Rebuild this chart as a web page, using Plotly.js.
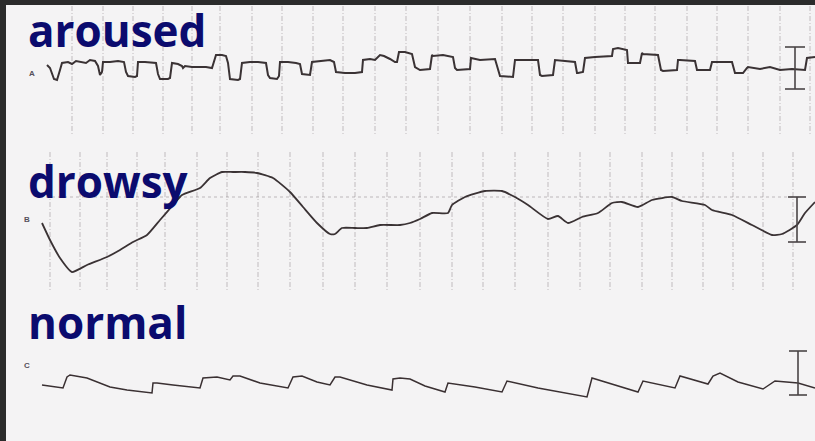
<!DOCTYPE html>
<html><head><meta charset="utf-8">
<script src="https://cdn.plot.ly/plotly-3.0.1.min.js"></script>
<style>html,body{margin:0;padding:0;background:#2b2b2b;}#chart{width:815px;height:441px;}</style>
</head><body><div id="chart"></div>
<script>
// Trace A: aroused (time position, deflection)
const arousedX = [47,50,54,57,60,62,68,72,76,82,86,90,95,98,100,102,103,110,118,124,126,128,135,137,138,145,152,156,158,160,168,170,172,178,182,183,185,192,200,206,212,214,216,222,226,228,230,238,240,242,250,258,266,268,270,277,279,280,288,296,300,302,310,312,320,330,334,336,345,355,362,363,370,375,380,384,390,395,397,399,405,412,415,420,430,432,433,443,453,455,457,470,471,480,495,497,500,513,515,525,538,540,542,553,555,565,575,577,578,583,585,595,612,613,618,627,628,630,640,642,643,658,661,663,677,678,680,695,697,698,710,712,713,732,735,737,743,747,748,760,770,780,792,805,807,815];
const arousedY = [65,68,79,80,70,63,62,64,61,62,63,60,61,66,75,72,62,62,61,62,72,76,77,76,62,62,63,63,74,79,79,78,63,64,66,68,66,67,67,67,68,62,55,55,56,63,79,80,79,63,62,62,63,75,78,79,76,62,62,63,64,74,75,62,61,60,62,72,73,73,72,60,59,60,55,56,59,62,62,52,52,54,67,70,69,55,56,55,57,68,70,69,58,60,59,65,76,77,60,60,60,75,76,75,60,61,62,73,73,72,58,57,56,49,48,50,63,63,63,53,54,55,70,71,70,60,60,61,70,70,70,62,62,62,73,73,73,68,67,69,67,70,69,70,58,57];
// Trace B: drowsy
const drowsyX = [42,50,60,72,87,107,120,133,147,160,173,182,200,210,222,233,245,257,273,290,303,317,330,335,342,355,367,380,400,410,420,432,448,452,465,485,502,515,528,548,558,568,582,598,612,622,638,652,672,682,705,712,732,752,772,782,797,805,815];
const drowsyY = [223,240,258,272,265,257,250,242,235,220,205,195,188,178,172,172,172,173,178,192,207,223,234,234,228,228,228,225,225,223,219,213,213,205,197,191,191,197,205,219,216,223,217,213,203,202,207,200,197,201,205,210,215,225,235,234,225,213,202];
// Trace C: normal
const normalX = [42,55,63,67,70,87,110,127,152,153,157,173,200,203,217,230,233,240,260,288,293,302,317,330,335,340,367,392,393,400,410,425,445,448,475,502,507,538,587,592,615,638,643,675,680,708,713,720,738,763,775,798,815];
const normalY = [385,387,388,377,375,378,387,390,393,383,383,385,388,378,377,380,376,376,383,388,377,376,382,385,377,377,385,390,379,378,379,386,392,383,387,392,381,388,397,378,385,392,381,388,376,384,376,373,382,389,381,383,388];
// Chart grid (vertical paper lines) per panel
const gridAX = [72,103,133,163,192,220,252,282,313,343,375,406,438,470,502,532,563,595,625,655,687,717,748,780,810];
const gridBX = [50,80,107,137,165,197,227,258,290,323,355,387,420,452,483,515,548,580,610,642,672,703,733,763,793];
// Calibration bars: [x, top, bottom, half serif width]
const calX = [795, 797, 798];
const calTop = [47, 197, 351];
const calBottom = [89, 242, 395];
const calSerif = [10, 9, 9];
// Labels
const stateLabels = ["aroused", "drowsy", "normal"];
const stateLabelX = [26, 26, 26];
const stateLabelY = [30, 181, 322];
const chanLabels = ["A", "B", "C"];
const chanLabelX = [27, 22, 22];
const chanLabelY = [73, 219, 365];

function vlines(xs, y0, y1) {
  const x = [], y = [];
  xs.forEach(v => { x.push(v, v, null); y.push(y0, y1, null); });
  return {x, y};
}
const gA = vlines(gridAX, 6, 135);
const gB = vlines(gridBX, 152, 290);
const cal = {x: [], y: []};
calX.forEach((cx, i) => {
  const s = calSerif[i];
  cal.x.push(cx, cx, null, cx - s, cx + s, null, cx - s, cx + s, null);
  cal.y.push(calTop[i], calBottom[i], null, calTop[i], calTop[i], null, calBottom[i], calBottom[i], null);
});

const gridStyle = {color: 'rgba(105,95,100,0.38)', width: 1, dash: '5px,2px,1px,2px'};
const traces = [
  {x: gA.x, y: gA.y, mode: 'lines', line: gridStyle, hoverinfo: 'skip'},
  {x: gB.x, y: gB.y, mode: 'lines', line: gridStyle, hoverinfo: 'skip'},
  {x: [40, 800], y: [197, 197], mode: 'lines', line: {color: 'rgba(105,95,100,0.4)', width: 1, dash: '3px,3px'}, hoverinfo: 'skip'},
  {x: arousedX, y: arousedY, mode: 'lines', line: {color: '#3a3234', width: 2}},
  {x: drowsyX, y: drowsyY, mode: 'lines', line: {color: '#3a3234', width: 1.8, shape: 'spline', smoothing: 0.5}},
  {x: normalX, y: normalY, mode: 'lines', line: {color: '#3a3032', width: 1.5}},
  {x: cal.x, y: cal.y, mode: 'lines', line: {color: '#4a4446', width: 1.6}}
];

const annotations = [];
stateLabels.forEach((t, i) => annotations.push({
  text: '<b>' + t + '</b>', x: stateLabelX[i], y: stateLabelY[i], xref: 'x', yref: 'y',
  xanchor: 'left', yanchor: 'middle', showarrow: false,
  font: {family: 'Open Sans, sans-serif', size: 44, color: '#0b0b6e'}
}));
chanLabels.forEach((t, i) => annotations.push({
  text: '<b>' + t + '</b>', x: chanLabelX[i], y: chanLabelY[i], xref: 'x', yref: 'y',
  xanchor: 'left', yanchor: 'middle', showarrow: false,
  font: {family: 'Arial, sans-serif', size: 8, color: '#55505a'}
}));

const layout = {
  width: 815, height: 441,
  margin: {l: 6, r: 0, t: 5, b: 0, pad: 0},
  paper_bgcolor: '#2b2b2b', plot_bgcolor: '#f4f3f4',
  showlegend: false,
  xaxis: {range: [6, 815], visible: false, fixedrange: true},
  yaxis: {range: [441, 5], visible: false, fixedrange: true},
  annotations: annotations
};
Plotly.newPlot('chart', traces, layout, {displayModeBar: false, staticPlot: true});
</script></body></html>
